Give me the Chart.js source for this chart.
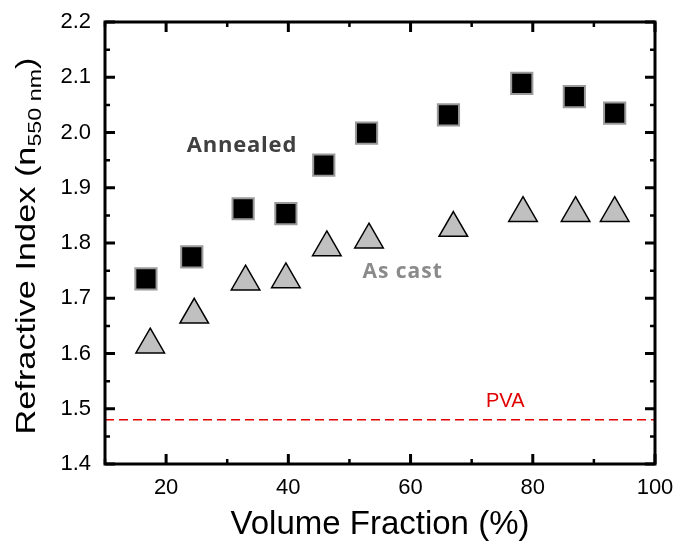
<!DOCTYPE html>
<html>
<head>
<meta charset="utf-8">
<script src="https://cdn.jsdelivr.net/npm/chart.js@4.4.1/dist/chart.umd.min.js"></script>
<style>
  body { margin: 0; background: #fff; }
  #wrap { width: 678px; height: 550px; position: relative; }
</style>
</head>
<body>
<div id="wrap"><canvas id="chart"></canvas></div>
<script>
// data
const annealedX = [16.7, 24.2, 32.6, 39.6, 45.8, 52.8, 66.2, 78.2, 86.8, 93.4];
const annealedY = [1.735, 1.775, 1.862, 1.853, 1.941, 1.999, 2.032, 2.089, 2.065, 2.035];
const castX = [17.4, 24.6, 33.0, 39.6, 46.3, 53.2, 67.0, 78.4, 87.0, 93.4];
const castY = [1.616, 1.670, 1.730, 1.734, 1.792, 1.806, 1.827, 1.854, 1.854, 1.854];
const pvaIndex = 1.48;
const xTicks = [20, 40, 60, 80, 100];
const yTicks = [1.4, 1.5, 1.6, 1.7, 1.8, 1.9, 2.0, 2.1, 2.2];
const xMin = 10, xMax = 100, yMin = 1.4, yMax = 2.2;

const toPts = (xs, ys) => xs.map((x, i) => ({x: x, y: ys[i]}));

// box frame with inward ticks on all four sides
const framePlugin = {
  id: 'frame',
  afterDatasetsDraw(chart) {
    const {ctx, chartArea: a, scales} = chart;
    const xs = scales.x, ys = scales.y;
    ctx.save();
    ctx.strokeStyle = '#000';
    ctx.lineCap = 'butt';
    for (let v = xMin; v <= xMax + 0.001; v += 10) {
      const major = Math.abs(v % 20) < 0.001;
      const px = xs.getPixelForValue(v);
      const len = major ? 10 : 5;
      ctx.lineWidth = major ? 3 : 2.5;
      ctx.beginPath();
      ctx.moveTo(px, a.bottom); ctx.lineTo(px, a.bottom - len);
      ctx.moveTo(px, a.top); ctx.lineTo(px, a.top + len);
      ctx.stroke();
    }
    for (let i = 0; i <= 16; i++) {
      const v = yMin + i * 0.05;
      const major = i % 2 === 0;
      const py = ys.getPixelForValue(v);
      const len = major ? 10 : 5;
      ctx.lineWidth = major ? 3 : 2.5;
      ctx.beginPath();
      ctx.moveTo(a.left, py); ctx.lineTo(a.left + len, py);
      ctx.moveTo(a.right, py); ctx.lineTo(a.right - len, py);
      ctx.stroke();
    }
    ctx.lineWidth = 3;
    ctx.strokeRect(a.left, a.top, a.right - a.left, a.bottom - a.top);
    ctx.restore();
  }
};

// text labels inside plot + y title with subscript
const labelPlugin = {
  id: 'labels',
  afterDraw(chart) {
    const {ctx, chartArea: a, scales} = chart;
    const xs = scales.x, ys = scales.y;
    ctx.save();
    ctx.textAlign = 'center';
    ctx.textBaseline = 'middle';

    ctx.font = 'bold 22px "Open Sans"';
    ctx.letterSpacing = '0.8px';
    ctx.fillStyle = '#404040';
    ctx.fillText('Annealed', xs.getPixelForValue(32.4), ys.getPixelForValue(1.976));

    ctx.font = 'bold 21px "Open Sans"';
    ctx.letterSpacing = '1px';
    ctx.fillStyle = '#8a8a8a';
    ctx.fillText('As cast', xs.getPixelForValue(58.7), ys.getPixelForValue(1.747));

    ctx.letterSpacing = '0px';
    ctx.font = '20px "Liberation Sans"';
    ctx.fillStyle = '#e00000';
    ctx.fillText('PVA', xs.getPixelForValue(75.5), ys.getPixelForValue(1.513));

    // y axis title, stretched along its length like the original
    const big = '28px "Liberation Sans"', small = '19px "Liberation Sans"';
    const t1 = 'Refractive Index (n', t2 = '550 nm', t3 = ')';
    ctx.font = big; const w1 = ctx.measureText(t1).width, w3 = ctx.measureText(t3).width;
    ctx.font = small; const w2 = ctx.measureText(t2).width;
    const total = w1 + w2 + w3;
    const stretch = 377 / total;
    ctx.translate(35, 246);
    ctx.rotate(-Math.PI / 2);
    ctx.scale(stretch, 1);
    ctx.textAlign = 'left';
    ctx.textBaseline = 'alphabetic';
    ctx.fillStyle = '#000';
    let x0 = -total / 2;
    ctx.font = big; ctx.fillText(t1, x0, 0); x0 += w1;
    ctx.font = small; ctx.fillText(t2, x0, 6); x0 += w2;
    ctx.font = big; ctx.fillText(t3, x0, 0);
    ctx.restore();
  }
};

const config = {
  type: 'scatter',
  data: {
    datasets: [
      {
        label: 'PVA',
        type: 'line',
        data: [{x: xMin, y: pvaIndex}, {x: xMax, y: pvaIndex}],
        borderColor: '#e00000',
        borderWidth: 1.5,
        borderDash: [9, 5],
        pointRadius: 0,
        fill: false
      },
      {
        label: 'Annealed',
        data: toPts(annealedX, annealedY),
        pointStyle: 'rect',
        pointRadius: 15,
        backgroundColor: '#000',
        borderColor: '#9a9a9a',
        borderWidth: 2
      },
      {
        label: 'As cast',
        data: toPts(castX, castY),
        pointStyle: 'triangle',
        pointRadius: 16.5,
        backgroundColor: '#c0c0c0',
        borderColor: '#000',
        borderWidth: 1.5
      }
    ]
  },
  options: {
    responsive: true,
    maintainAspectRatio: false,
    animation: false,
    layout: { padding: { top: 22, right: 23, left: 0, bottom: 0 } },
    plugins: {
      legend: { display: false },
      tooltip: { enabled: false }
    },
    scales: {
      x: {
        type: 'linear',
        min: xMin, max: xMax,
        afterFit: s => { s.height = 86; s.paddingLeft = 0; s.paddingRight = 0; },
        afterBuildTicks: s => { s.ticks = xTicks.map(v => ({value: v})); },
        grid: { display: false, drawTicks: false },
        border: { display: false },
        ticks: { color: '#000', font: { family: 'Liberation Sans', size: 22 }, padding: 11 },
        title: {
          display: true, text: 'Volume Fraction (%)', color: '#000',
          font: { family: 'Liberation Sans', size: 33 }, padding: { top: 4, bottom: 5 }
        }
      },
      y: {
        type: 'linear',
        min: yMin, max: yMax,
        afterFit: s => { s.width = 105; s.paddingTop = 0; s.paddingBottom = 0; },
        afterBuildTicks: s => { s.ticks = yTicks.map(v => ({value: v})); },
        grid: { display: false, drawTicks: false },
        border: { display: false },
        ticks: {
          color: '#000', font: { family: 'Liberation Sans', size: 22 }, padding: 14,
          callback: v => v.toFixed(1)
        }
      }
    }
  },
  plugins: [framePlugin, labelPlugin]
};

new Chart(document.getElementById('chart'), config);
</script>
</body>
</html>
